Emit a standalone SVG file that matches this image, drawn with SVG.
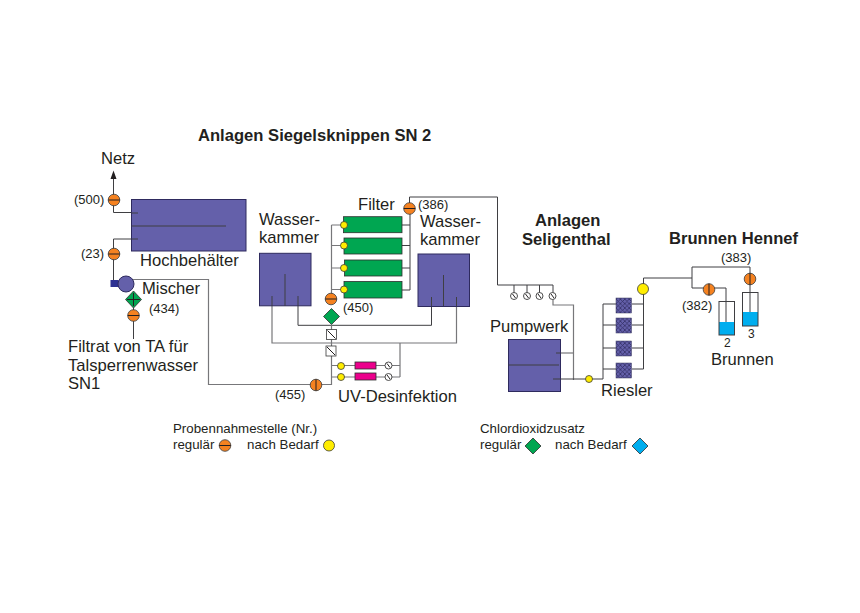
<svg xmlns="http://www.w3.org/2000/svg" width="860" height="613" viewBox="0 0 860 613">
<style>
text{font-family:"Liberation Sans",Arial,sans-serif;fill:#231f20}
.l{font-size:16.6px}.s{font-size:13px}.xs{font-size:13.3px}.b{font-size:16.6px;font-weight:bold}.n{font-size:12px}
.tank{fill:#6460aa;stroke:#2e2a5e;stroke-width:1}
.w{fill:none;stroke:#3f3f42;stroke-width:1}
.g{fill:none;stroke:#77777a;stroke-width:1.2}
.filter{fill:#00a651;stroke:#2e2e2e;stroke-width:.8}
.org{fill:#f58220;stroke:#3a3a3a;stroke-width:.8}
.yel{fill:#ffed00;stroke:#3a3a3a;stroke-width:.8}
.dia{fill:#00a651;stroke:#2e2e2e;stroke-width:.8}
.pink{fill:#ec008c;stroke:#2e2e2e;stroke-width:.8}
.riesel{fill:url(#hatch);stroke:#3a3a5e;stroke-width:.5}
.water{fill:#00aeef}
.mark{stroke:#231f20;stroke-width:1;fill:none}
</style>
<defs>
<pattern id="hatch" width="4.4" height="4.4" patternUnits="userSpaceOnUse"><rect width="4.4" height="4.4" fill="#6460aa"/><path d="M0 0L4.4 4.4M4.4 0L0 4.4" stroke="#2e2a5e" stroke-width=".7"/></pattern>
<g id="vh"><circle class="org" r="5.8"/><path class="mark" d="M-5.8 0H5.8"/></g>
<g id="vv"><circle class="org" r="5.8"/><path class="mark" d="M0-5.8V5.8"/></g>
<g id="pm"><circle r="3.5" fill="#fff" stroke="#3a3a3a" stroke-width=".9"/><path class="mark" d="M-1.5-2L1.5 2"/></g>
<g id="chk"><rect x="-5" y="-5" width="10" height="10" fill="#fff" stroke="#3a3a3a" stroke-width=".8"/><path d="M-4-4L4 4" stroke="#231f20" stroke-width="1"/></g>
</defs>

<g id="connectors">
<path class="w" d="M113.5 178V212.5H138M113.5 239V283M113.5 239H138"/>
<path class="g" d="M126 279.5H208.500V384.500H331"/>
<path class="w" d="M133.500 308V339"/>
<path class="g" d="M331.500 225V300M344 225H331.500M344 245.500H331.500M344 268H331.500M344 289.500H331.500"/>
<path class="w" d="M402 225H410M402 245.500H410M402 268H410M402 290H410V208"/>
<path class="w" d="M409.500 208V197H497.500V285H553V296M514 285V296M527 285V296M539.500 285V296"/>
<path class="g" d="M553 296V305H573.500V380"/>
<path class="g" d="M556 353H573.500"/>
<path class="w" d="M555 379H603V304H616M603 325H616M603 348H616M603 369H616M632 304H643.500M632 325H643.500M632 348H643.500M632 369H643.500M643.500 369V284V278H692V288H709H726V328M692 278V267H750V316"/>
<path class="g" d="M272 296V343H456.500V297M400 343V377"/>
<path class="w" d="M298 296V325.300H431.500V297"/>
<path class="g" d="M331.500 325V385M331 365.500H400M331 377H400"/>
</g>
<path d="M113.500 170.500L116.500 179H110.500Z" fill="#231f20"/>

<g id="hochbehaelter"><rect class="tank" x="131.500" y="199.500" width="114.500" height="51.500"/><path class="w" d="M131.500 226H226M131.500 213H138M131.500 239H138"/><text class="l" x="140" y="266">Hochbehälter</text></g>
<g id="netz"><text class="l" x="101" y="164">Netz</text></g>
<g id="v500"><use href="#vh" x="114" y="200"/><text class="s" x="74" y="204">(500)</text></g>
<g id="v23"><use href="#vh" x="114" y="254"/><text class="s" x="81" y="258">(23)</text></g>
<g id="mischer"><rect x="110.500" y="280" width="8" height="7" fill="#2e3192"/><circle cx="126" cy="284" r="8" fill="#6460aa" stroke="#2e2a5e"/><text class="l" x="142" y="294">Mischer</text></g>
<g id="d434"><path class="dia" d="M133.500 291L141.500 299.500L133.500 308L125.500 299.500Z"/><path class="mark" d="M127 299.500H140M133.500 293V306"/><text class="s" x="149" y="313">(434)</text></g>
<g id="v434"><use href="#vh" x="133.500" y="315.500"/></g>
<g id="filtrat"><text class="l"><tspan x="68" y="352">Filtrat von TA für</tspan><tspan x="68" y="371">Talsperrenwasser</tspan><tspan x="68" y="389">SN1</tspan></text></g>

<g id="wk1"><rect class="tank" x="259.500" y="253.300" width="51.500" height="52.500"/><path class="w" d="M285 274V306M272 296V306M298 296V306"/><text class="l"><tspan x="259" y="225">Wasser-</tspan><tspan x="259" y="243">kammer</tspan></text></g>
<g id="wk2"><rect class="tank" x="418" y="254" width="51.500" height="52.500"/><path class="w" d="M443.500 275V306M431.500 297V306M456.500 297V306"/><text class="l"><tspan x="420" y="227">Wasser-</tspan><tspan x="420" y="245">kammer</tspan></text></g>

<g id="filter"><text class="l" x="358" y="210">Filter</text>
<rect class="filter" x="343.500" y="216.700" width="58.500" height="16"/><rect class="filter" x="344" y="238" width="58" height="16"/><rect class="filter" x="344.500" y="260" width="57.500" height="16"/><rect class="filter" x="344" y="281.500" width="58" height="16.500"/>
<circle class="yel" cx="344" cy="225" r="3.500"/><circle class="yel" cx="344" cy="245.500" r="3.500"/><circle class="yel" cx="344" cy="268" r="3.500"/><circle class="yel" cx="344" cy="289.500" r="3.500"/></g>
<g id="v386"><use href="#vh" x="409.500" y="208.500"/><text class="s" x="418" y="209">(386)</text></g>
<g id="v450"><use href="#vh" x="331" y="299"/><text class="s" x="343" y="312">(450)</text></g>
<g id="d450"><path class="dia" d="M331.500 308.500L339.500 316.500L331.500 324.500L323.500 316.500Z"/></g>
<g id="uv"><use href="#chk" x="331.500" y="334.500"/><use href="#chk" x="331" y="351"/>
<circle class="yel" cx="341" cy="366" r="3.500"/><circle class="yel" cx="341" cy="377" r="3.500"/>
<rect class="pink" x="355" y="362" width="21" height="7"/><rect class="pink" x="355" y="373" width="21" height="7"/>
<use href="#pm" x="388.500" y="365.500"/><use href="#pm" x="388.500" y="377"/>
<text class="l" x="338" y="402">UV-Desinfektion</text></g>
<g id="v455"><use href="#vv" x="316" y="385"/><text class="s" x="275" y="399">(455)</text></g>

<g id="title"><text class="b" x="198" y="141">Anlagen Siegelsknippen SN 2</text></g>
<g id="seligenthal"><text class="b"><tspan x="535" y="226">Anlagen</tspan><tspan x="522" y="245">Seligenthal</tspan></text></g>
<g id="hennef"><text class="b" x="669" y="244">Brunnen Hennef</text></g>

<g id="pumps"><use href="#pm" x="514" y="296"/><use href="#pm" x="527" y="296"/><use href="#pm" x="539.500" y="296"/><use href="#pm" x="552.500" y="296"/></g>
<g id="pumpwerk"><rect class="tank" x="508.500" y="339.500" width="52" height="52"/><path class="w" d="M508.500 365H559M556 353H560.500M553 379H560.500"/><text class="l" x="490" y="332">Pumpwerk</text></g>
<g id="y589"><circle class="yel" cx="589" cy="379" r="3.500"/></g>
<g id="riesler"><rect class="riesel" x="616" y="298" width="15.500" height="15"/><rect class="riesel" x="616" y="318" width="15.500" height="15"/><rect class="riesel" x="616" y="341" width="15.500" height="15"/><rect class="riesel" x="616" y="363" width="15.500" height="15"/><text class="l" x="601" y="396">Riesler</text></g>
<g id="y643"><circle class="yel" cx="643" cy="289" r="5.500"/></g>
<g id="v382"><use href="#vv" x="709" y="289.500"/><text class="s" x="682" y="310">(382)</text></g>
<g id="v383"><use href="#vv" x="750" y="279"/><text class="s" x="721" y="262">(383)</text></g>
<g id="brunnen2"><rect class="water" x="719" y="322" width="15.500" height="13"/><rect x="719" y="301.500" width="15.500" height="33.500" fill="none" stroke="#3f3f42"/><text class="n" x="724" y="347">2</text></g>
<g id="brunnen3"><rect class="water" x="742.500" y="312" width="15.500" height="14"/><rect x="742.500" y="292.500" width="15.500" height="33.500" fill="none" stroke="#3f3f42"/><text class="n" x="748" y="338">3</text></g>
<g id="brunnen"><text class="l" x="711" y="364.500">Brunnen</text></g>

<g id="legend1"><text class="xs" x="173" y="433">Probennahmestelle (Nr.)</text><text class="xs" x="173" y="449">regulär</text><use href="#vh" x="225" y="445.500"/><text class="xs" x="247" y="449">nach Bedarf</text><circle class="yel" cx="329" cy="445.500" r="5.500"/></g>
<g id="legend2"><text class="xs" x="480" y="433">Chlordioxidzusatz</text><text class="xs" x="480" y="449">regulär</text><path class="dia" d="M533 438L541 446L533 454L525 446Z"/><text class="xs" x="555" y="449">nach Bedarf</text><path d="M640 438L648 446L640 454L632 446Z" fill="#00aeef" stroke="#2e2e2e" stroke-width=".8"/></g>
</svg>
